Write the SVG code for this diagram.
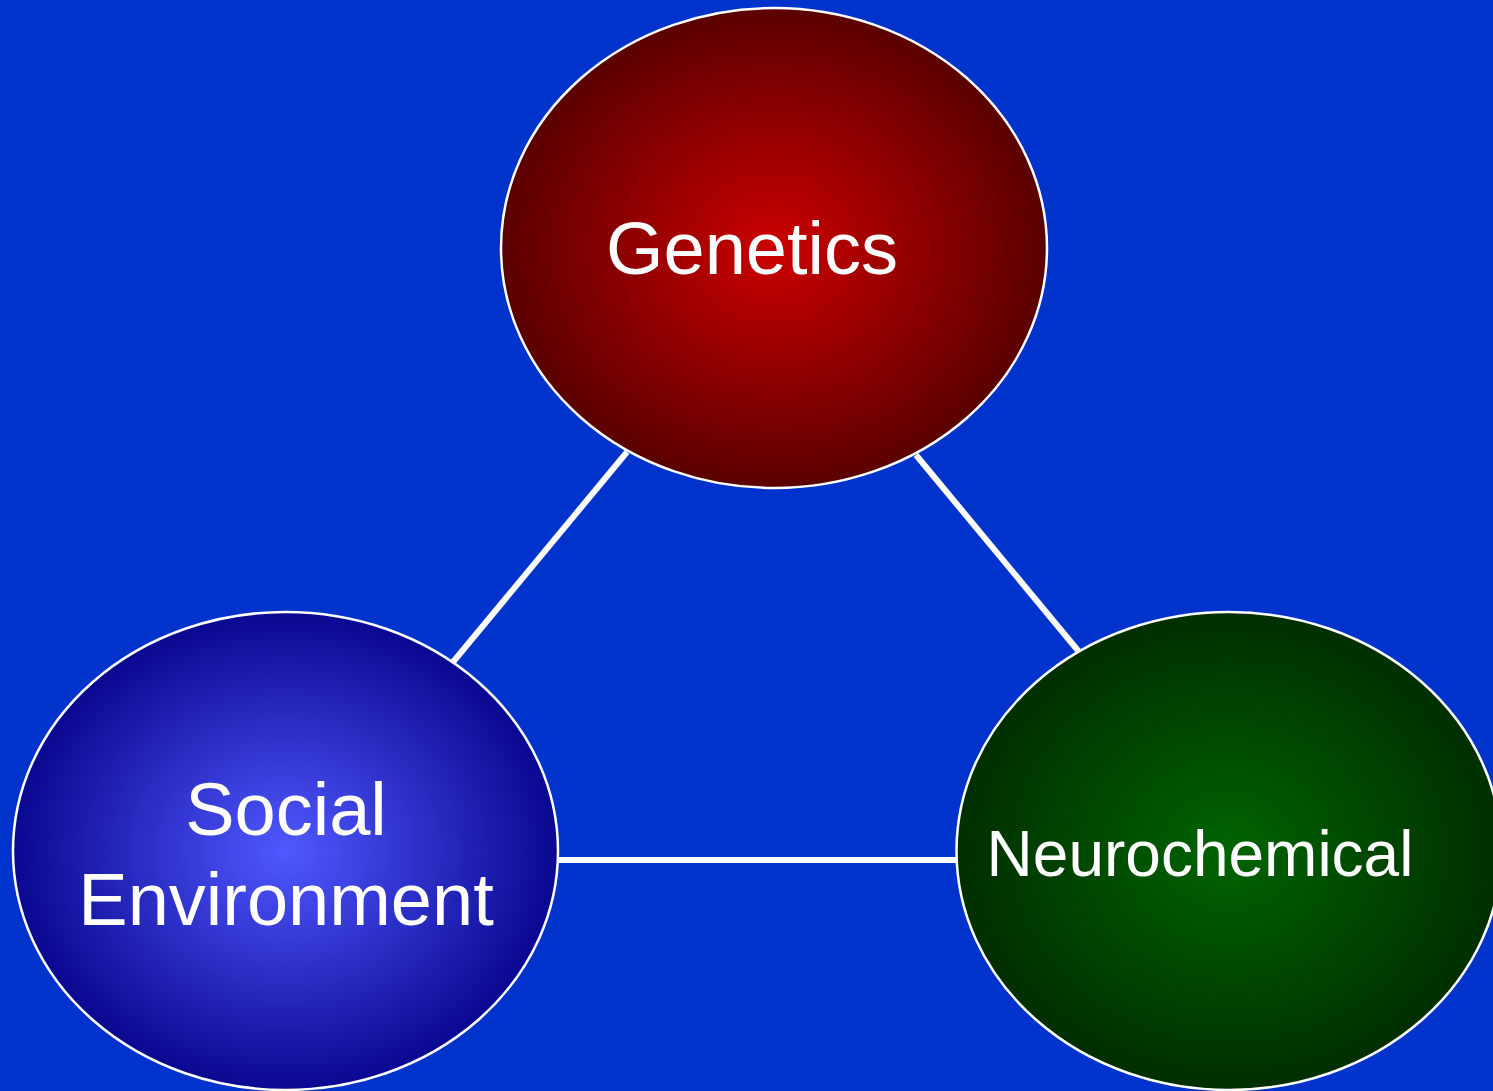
<svg xmlns="http://www.w3.org/2000/svg" width="1493" height="1091" viewBox="0 0 1493 1091">
<defs>
<radialGradient id="gRed" cx="50%" cy="50%" r="50%"><stop offset="0" stop-color="#cc0000"/><stop offset="1" stop-color="#5a0000"/></radialGradient>
<radialGradient id="gBlue" cx="50%" cy="50%" r="50%"><stop offset="0" stop-color="#5058ff"/><stop offset="1" stop-color="#0a0890"/></radialGradient>
<radialGradient id="gGreen" cx="50%" cy="50%" r="50%"><stop offset="0" stop-color="#006400"/><stop offset="1" stop-color="#002e00"/></radialGradient>
<style>
.node{stroke:#ffffff;stroke-width:2.5}
.lbl{fill:#ffffff;font-family:"Liberation Sans",Arial,sans-serif;text-anchor:middle}
.conn{stroke:#ffffff;stroke-width:6;fill:none}
</style>
</defs>
<rect width="1493" height="1091" fill="#0033cc"/>
<g id="connectors">
<line class="conn" x1="627" y1="452" x2="453" y2="662"/>
<line class="conn" x1="916" y1="455" x2="1080" y2="653"/>
<line class="conn" x1="557" y1="860" x2="958" y2="860"/>
</g>
<g id="genetics">
<ellipse class="node" cx="774" cy="248" rx="273" ry="240" fill="url(#gRed)"/>
<text class="lbl" x="752" y="274" font-size="74">Genetics</text>
</g>
<g id="social-environment">
<ellipse class="node" cx="285.5" cy="851" rx="272.5" ry="239" fill="url(#gBlue)"/>
<text class="lbl" x="286" y="835" font-size="74">Social</text>
<text class="lbl" x="286" y="925" font-size="74">Environment</text>
</g>
<g id="neurochemical">
<ellipse class="node" cx="1229" cy="851" rx="272.5" ry="239" fill="url(#gGreen)"/>
<text class="lbl" x="1200" y="876" font-size="64">Neurochemical</text>
</g>
</svg>
